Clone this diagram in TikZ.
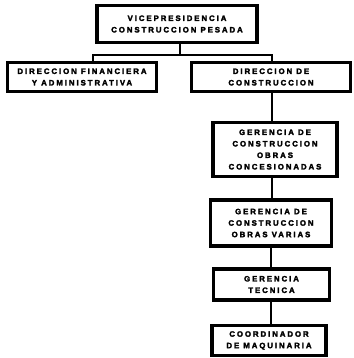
\documentclass[tikz,border=0pt]{standalone}
\usepackage{fontspec}
\newfontfamily\boxfont[LetterSpace=25,FakeBold=3]{Liberation Sans Bold}
\begin{document}
\begin{tikzpicture}[x=1pt,y=-1pt,
  orgbox/.style={draw=black, line width=3.2pt, fill=white, align=center,
    font=\boxfont\fontsize{7.8}{11.5}\selectfont, inner sep=0pt},
  link/.style={draw=black, line width=2pt}]
\useasboundingbox (0,0) rectangle (353,358);
\node[orgbox, minimum width=160pt, minimum height=37pt] (vp) at (177,24)
  {VICEPRESIDENCIA\\CONSTRUCCION PESADA};
\node[orgbox, minimum width=149pt, minimum height=29pt] (dfa) at (82,77)
  {DIRECCION FINANCIERA\\Y ADMINISTRATIVA};
\node[orgbox, minimum width=159pt, minimum height=29pt] (dc) at (271,77)
  {DIRECCION DE\\CONSTRUCCION};
\node[orgbox, minimum width=124pt, minimum height=54pt] (g1) at (275,149.5)
  {GERENCIA DE\\CONSTRUCCION\\OBRAS\\CONCESIONADAS};
\node[orgbox, minimum width=121pt, minimum height=46pt] (g2) at (271,223)
  {GERENCIA DE\\CONSTRUCCION\\OBRAS VARIAS};
\node[orgbox, minimum width=116pt, minimum height=31pt] (g3) at (271.5,284.5)
  {GERENCIA\\TECNICA};
\node[orgbox, minimum width=114pt, minimum height=30pt] (g4) at (269,340.5)
  {COORDINADOR\\DE MAQUINARIA};
\coordinate (bus) at (180,55);
\coordinate (busl) at (93,55);
\coordinate (busr) at (272,55);
\draw[link] (vp.south -| bus) -- (bus);
\draw[link] (busl |- dfa.north) -- (busl) -- (busr) -- (busr |- dc.north);
\draw[link] (272,0 |- dc.south) -- (272,0 |- g1.north);
\draw[link] (272,0 |- g1.south) -- (272,0 |- g2.north);
\draw[link] (271,0 |- g2.south) -- (271,0 |- g3.north);
\draw[link] (271,0 |- g3.south) -- (271,0 |- g4.north);
\end{tikzpicture}
\end{document}
